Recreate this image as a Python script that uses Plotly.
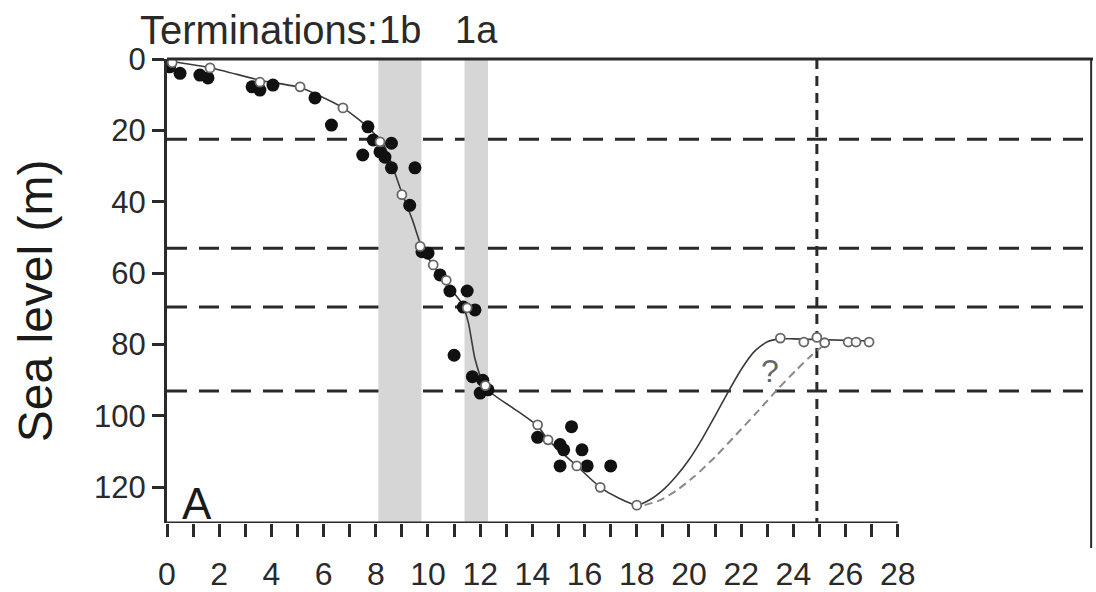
import plotly.graph_objects as go

# ---- data ----
filled_x = [0.1, 0.5, 1.26, 1.57, 3.26, 3.56, 4.06, 5.67, 6.3, 7.7, 7.9, 7.5, 8.16, 8.35, 8.6, 8.6,
            9.5, 9.3, 9.77, 10.0, 10.46, 10.84, 11.5, 11.35, 11.8, 11.0, 11.7, 12.1, 12.3, 12.0,
            14.2, 15.06, 15.2, 15.5, 15.9, 15.06, 16.1, 17.0]
filled_y = [2.2, 4.0, 4.5, 5.3, 7.8, 8.7, 7.3, 10.9, 18.5, 19.0, 22.7, 26.9, 26.0, 27.5, 23.6, 30.5,
            30.5, 41.0, 54.0, 54.4, 60.5, 65.0, 65.0, 69.5, 70.3, 83.0, 89.0, 90.0, 92.7, 93.6,
            106.0, 108.0, 109.5, 103.0, 109.5, 114.0, 114.0, 114.0]

open_x = [0.2, 1.65, 3.56, 5.1, 6.74, 8.16, 9.0, 9.7, 10.2, 10.7, 11.5, 12.2, 14.2, 14.6, 15.7,
          16.6, 18.0, 23.5, 24.4, 24.9, 25.2, 26.1, 26.4, 26.9]
open_y = [1.0, 2.5, 6.5, 7.8, 13.7, 23.2, 38.0, 52.5, 57.7, 62.0, 69.7, 91.5, 102.5, 106.7, 114.0,
          120.0, 125.0, 78.2, 79.3, 78.0, 79.5, 79.3, 79.3, 79.3]

curve_x = [0, 1.7, 3.6, 5.1, 6.7, 7.6, 8.3, 9.0, 9.4, 9.8, 10.2, 10.8, 11.3, 11.55, 11.8, 12.1, 12.5,
           13.3, 14.2, 14.6, 15.7, 16.6, 17.3, 18.0, 18.5, 19.0, 19.5, 20.0, 20.5, 21.0, 21.5, 22.0,
           22.5, 23.0, 23.5, 24.0, 27.0]
curve_y = [0.5, 2.5, 6.0, 8.0, 13.5, 18.5, 24.0, 37.5, 45.0, 53.5, 57.7, 63.8, 68.5, 74.0, 84.0, 90.5, 94.0,
           98.0, 102.8, 106.7, 114.0, 120.0, 123.0, 125.0, 123.5, 120.8, 117.0, 112.3, 106.5, 100.0, 93.3, 87.0,
           82.0, 79.2, 78.4, 78.4, 79.0]

alt_x = [18.3, 18.9, 19.5, 20.2, 21.0, 21.8, 22.6, 23.4, 24.1, 24.7, 25.2]
alt_y = [125.0, 123.6, 121.0, 117.0, 111.5, 105.3, 99.0, 92.5, 87.2, 83.0, 80.0]

hlines = [22.5, 53.0, 69.5, 93.0]
vline_x = 24.9
bands = [(8.1, 9.75), (11.4, 12.3)]
xtick_vals = list(range(0, 29))
xtick_text = [str(v) if v % 2 == 0 else "" for v in xtick_vals]
ytick_vals = [0, 20, 40, 60, 80, 100, 120]

FONT = "Liberation Sans, Arial, sans-serif"
DARK = "#2a2a2a"

fig = go.Figure()

fig.add_trace(go.Scatter(x=alt_x, y=alt_y, mode="lines",
                         line=dict(color="#8a8a8a", width=2, dash="8px,5px", shape="spline", smoothing=0.6),
                         showlegend=False))
fig.add_trace(go.Scatter(x=curve_x, y=curve_y, mode="lines",
                         line=dict(color="#3a3a3a", width=1.6, shape="spline", smoothing=0.6),
                         showlegend=False))
fig.add_trace(go.Scatter(x=filled_x, y=filled_y, mode="markers",
                         marker=dict(color="#111111", size=13, line=dict(width=0)),
                         showlegend=False))
fig.add_trace(go.Scatter(x=open_x, y=open_y, mode="markers",
                         marker=dict(color="white", size=9, line=dict(color="#666666", width=1.8)),
                         showlegend=False))

shapes = []
for x0, x1 in bands:
    shapes.append(dict(type="rect", xref="x", yref="y", x0=x0, x1=x1, y0=0, y1=130,
                       fillcolor="#d6d6d6", line=dict(width=0), layer="below"))
for h in hlines:
    shapes.append(dict(type="line", xref="paper", yref="y", x0=0, x1=1, y0=h, y1=h,
                       line=dict(color=DARK, width=3, dash="20px,12px"), layer="below"))
shapes.append(dict(type="line", xref="x", yref="y", x0=vline_x, x1=vline_x, y0=0, y1=130,
                   line=dict(color=DARK, width=3, dash="10px,7px"), layer="below"))
# frame: top line, right line, bottom axis (0-28 only)
shapes.append(dict(type="line", xref="paper", yref="paper", x0=0, x1=1, y0=1, y1=1,
                   line=dict(color=DARK, width=3)))
shapes.append(dict(type="line", xref="paper", yref="paper", x0=0.998, x1=0.998, y0=1, y1=-0.054,
                   line=dict(color=DARK, width=2)))
shapes.append(dict(type="line", xref="x", yref="y", x0=0, x1=28, y0=130, y1=130,
                   line=dict(color=DARK, width=3)))

annotations = [
    dict(text="Terminations:", xref="x", yref="paper", x=8.15, y=1.0625, xanchor="right",
         yanchor="middle", showarrow=False, font=dict(family=FONT, size=40, color=DARK)),
    dict(text="1b", xref="x", yref="paper", x=8.93, y=1.0625, xanchor="center",
         yanchor="middle", showarrow=False, font=dict(family=FONT, size=38, color=DARK)),
    dict(text="1a", xref="x", yref="paper", x=11.85, y=1.0625, xanchor="center",
         yanchor="middle", showarrow=False, font=dict(family=FONT, size=38, color=DARK)),
    dict(text="Sea level (m)", xref="paper", yref="paper", x=-0.1425, y=0.478, textangle=-90,
         xanchor="center", yanchor="middle", showarrow=False,
         font=dict(family=FONT, size=48, color="#1a1a1a")),
    dict(text="A", xref="x", yref="y", x=1.15, y=124.5, xanchor="center", yanchor="middle",
         showarrow=False, font=dict(family=FONT, size=44, color="#1a1a1a")),
    dict(text="?", xref="x", yref="y", x=23.1, y=87.5, xanchor="center", yanchor="middle",
         showarrow=False, font=dict(family=FONT, size=32, color="#666666")),
]

fig.update_layout(
    width=1096, height=592,
    margin=dict(l=167, r=3, t=59, b=69, autoexpand=False),
    paper_bgcolor="white", plot_bgcolor="white",
    shapes=shapes, annotations=annotations,
    xaxis=dict(range=[0, 35.48], showgrid=False, zeroline=False, showline=False,
               automargin=False,
               tickmode="array", tickvals=xtick_vals, ticktext=xtick_text,
               ticks="outside", ticklen=13, tickwidth=2.5, tickcolor=DARK,
               ticklabelstandoff=10,
               tickfont=dict(family=FONT, size=32, color=DARK)),
    yaxis=dict(range=[130, 0], showgrid=False, zeroline=False, showline=True,
               automargin=False,
               linecolor=DARK, linewidth=3,
               tickmode="array", tickvals=ytick_vals,
               ticks="outside", ticklen=12, tickwidth=2.5, tickcolor=DARK,
               tickfont=dict(family=FONT, size=31, color=DARK)),
)

fig.write_html("out.html")
